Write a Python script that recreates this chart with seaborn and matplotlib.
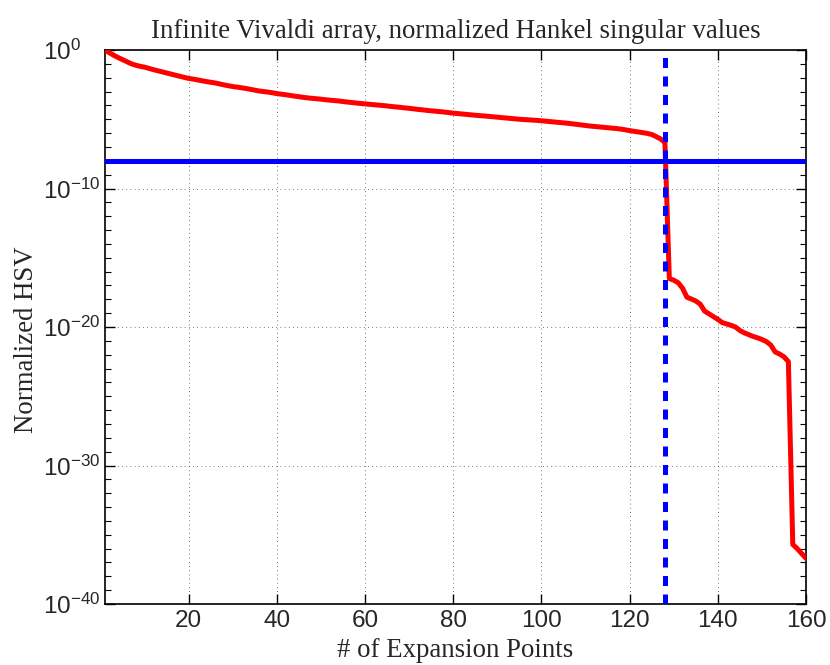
import numpy as np
import pandas as pd
import matplotlib
matplotlib.use("Agg")
import matplotlib.pyplot as plt
import matplotlib.ticker as mticker
import seaborn as sns

# Normalized Hankel singular values (log10), one per expansion point
n_points = list(range(1, 161))
log_hsv = [
    0.00, -0.20, -0.38, -0.55, -0.70, -0.85, -1.00, -1.10, -1.18, -1.24,
    -1.33, -1.42, -1.50, -1.58, -1.66, -1.74, -1.82, -1.90, -1.98, -2.05,
    -2.10, -2.16, -2.22, -2.28, -2.33, -2.38, -2.45, -2.52, -2.58, -2.64,
    -2.68, -2.73, -2.78, -2.84, -2.90, -2.96, -3.00, -3.04, -3.09, -3.15,
    -3.19, -3.23, -3.28, -3.33, -3.37, -3.42, -3.46, -3.49, -3.52, -3.55,
    -3.59, -3.62, -3.65, -3.68, -3.72, -3.76, -3.79, -3.83, -3.86, -3.89,
    -3.92, -3.95, -3.98, -4.01, -4.04, -4.08, -4.11, -4.14, -4.18, -4.21,
    -4.25, -4.29, -4.32, -4.36, -4.39, -4.42, -4.45, -4.48, -4.52, -4.56,
    -4.59, -4.62, -4.65, -4.68, -4.71, -4.74, -4.76, -4.79, -4.82, -4.85,
    -4.88, -4.91, -4.94, -4.97, -5.00, -5.02, -5.04, -5.06, -5.08, -5.11,
    -5.14, -5.17, -5.20, -5.23, -5.26, -5.29, -5.33, -5.37, -5.41, -5.45,
    -5.49, -5.52, -5.55, -5.58, -5.61, -5.64, -5.67, -5.71, -5.76, -5.82,
    -5.87, -5.92, -5.97, -6.02, -6.10, -6.25, -6.42, -6.68, -16.50, -16.62,
    -16.80, -17.20, -17.85, -17.98, -18.12, -18.35, -18.85, -19.05, -19.25, -19.45,
    -19.68, -19.78, -19.88, -20.00, -20.25, -20.42, -20.55, -20.68, -20.78, -20.90,
    -21.05, -21.30, -21.80, -21.95, -22.15, -22.50, -35.70, -36.00, -36.35, -36.70,
]
threshold = 1e-8      # truncation tolerance
cutoff_point = 128    # chosen number of expansion points

x_ticks = [20, 40, 60, 80, 100, 120, 140, 160]
y_ticks = [1e-40, 1e-30, 1e-20, 1e-10, 1e0]

df = pd.DataFrame({"n": n_points, "hsv": 10.0 ** np.array(log_hsv)})

sns.set_theme(style="white")
plt.rcParams["font.family"] = ["Liberation Sans", "DejaVu Sans"]
plt.rcParams["mathtext.fontset"] = "custom"
plt.rcParams["mathtext.rm"] = "Liberation Sans"
plt.rcParams["mathtext.it"] = "Liberation Sans"

fig = plt.figure(figsize=(8.3, 6.65), dpi=100)
ax = fig.add_axes([0.1265, 0.0917, 0.8446, 0.8331])

sns.lineplot(data=df, x="n", y="hsv", ax=ax, color="red", linewidth=3.6,
             solid_joinstyle="round", zorder=3)
ax.axhline(threshold, color="blue", linewidth=3.6, zorder=4)
ax.axvline(cutoff_point, color="blue", linewidth=3.6, dashes=(2.0, 1.7), zorder=4)

ax.set_yscale("log")
ax.set_xlim(1, 160)
ax.set_ylim(1e-40, 1e0)
ax.set_xticks(x_ticks)
ax.set_xticklabels([str(t) for t in x_ticks])
ax.yaxis.set_major_locator(mticker.FixedLocator(y_ticks))
ax.yaxis.set_minor_locator(mticker.FixedLocator([10.0 ** -k for k in range(1, 40)]))
ax.yaxis.set_major_formatter(mticker.FuncFormatter(
    lambda v, p: r"$\mathdefault{10^{%d}}$" % int(round(np.log10(v)))))
ax.yaxis.set_minor_formatter(mticker.NullFormatter())

ax.grid(True, which="major", axis="both", linestyle=(0, (1, 4)),
        color="black", linewidth=0.6, alpha=0.7)
ax.tick_params(axis="both", which="both", direction="in", top=True, right=True,
               bottom=True, left=True, color="black")
ax.tick_params(axis="both", which="major", length=7, width=1, labelsize=17.5)
ax.tick_params(axis="x", which="major", pad=4)
ax.tick_params(axis="y", which="major", pad=44.5)
ax.tick_params(axis="y", which="minor", length=4, width=0.8)
plt.setp(ax.get_yticklabels(), ha="left")
for s in ax.spines.values():
    s.set_color("black")
    s.set_linewidth(1.2)

serif = ["Liberation Serif", "DejaVu Serif"]
ax.set_title("Infinite Vivaldi array, normalized Hankel singular values",
             fontsize=19.3, family=serif, pad=9)
ax.set_xlabel("# of Expansion Points", fontsize=19.3, family=serif)
ax.set_ylabel("Normalized HSV", fontsize=19.3, family=serif)
ax.xaxis.set_label_coords(0.5, -0.062)
ax.yaxis.set_label_coords(-0.094, 0.478)

fig.savefig("out.png", dpi=100)
